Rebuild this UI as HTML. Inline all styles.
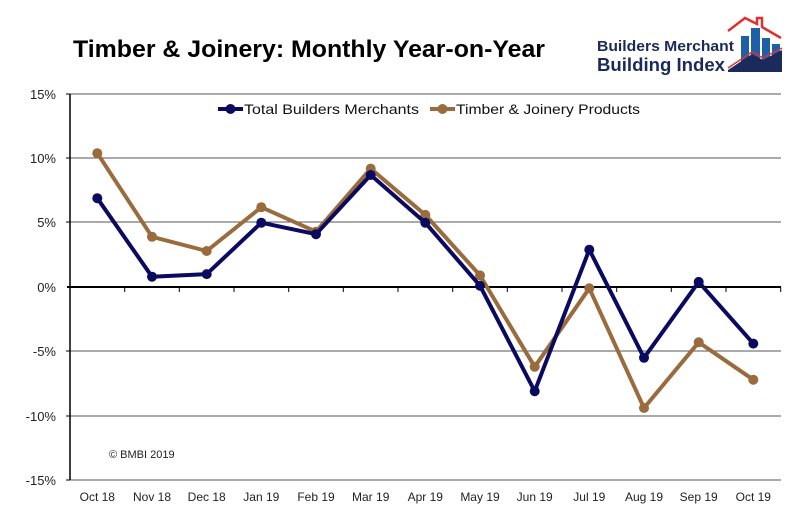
<!DOCTYPE html>
<html><head><meta charset="utf-8"><style>
body{margin:0;background:#fff}
svg{display:block}
text{font-family:"Liberation Sans",sans-serif}
</style></head><body>
<svg width="800" height="522" viewBox="0 0 800 522" xmlns="http://www.w3.org/2000/svg">
<rect width="800" height="522" fill="#fff"/>
<text x="73" y="57" font-size="24" font-weight="bold" fill="#000" textLength="472" lengthAdjust="spacingAndGlyphs">Timber &amp; Joinery: Monthly Year-on-Year</text>
<!-- logo -->
<g>
<polyline points="728,31 745,18 757,24 757,18 762,18 762,27 781,38" fill="none" stroke="#e03030" stroke-width="2.5"/>
<rect x="741" y="36" width="8" height="30" fill="#1f5fa8"/>
<rect x="751" y="28" width="9" height="38" fill="#1f5fa8"/>
<rect x="762" y="38" width="8" height="28" fill="#1f5fa8"/>
<rect x="772" y="44" width="8" height="22" fill="#1f5fa8"/>
<polygon points="728,70 752,54 763,60 782,50 782,72 728,72" fill="#1a2a5a"/>
<polyline points="728,68 752,52 763,58 782,48" fill="none" stroke="#e03030" stroke-width="1.5"/>
<text x="597" y="51" font-size="15" font-weight="bold" fill="#1a2a5a" textLength="137" lengthAdjust="spacingAndGlyphs">Builders Merchant</text>
<text x="597" y="71" font-size="18" font-weight="bold" fill="#1a2a5a" textLength="128" lengthAdjust="spacingAndGlyphs">Building Index</text>
</g>
<!-- grid -->
<g stroke="#555" stroke-width="1">
<line x1="70" y1="94" x2="781" y2="94"/>
<line x1="70" y1="158" x2="781" y2="158"/>
<line x1="70" y1="222" x2="781" y2="222"/>
<line x1="70" y1="351" x2="781" y2="351"/>
<line x1="70" y1="416" x2="781" y2="416"/>
<line x1="70" y1="480" x2="781" y2="480"/>
</g>
<line x1="70" y1="94" x2="70" y2="480" stroke="#000" stroke-width="1.5"/>
<line x1="67" y1="287" x2="781" y2="287" stroke="#000" stroke-width="2"/>
<g stroke="#000" stroke-width="1">
<line x1="66" y1="94" x2="70" y2="94"/><line x1="66" y1="158" x2="70" y2="158"/><line x1="66" y1="222" x2="70" y2="222"/>
<line x1="66" y1="351" x2="70" y2="351"/><line x1="66" y1="416" x2="70" y2="416"/><line x1="66" y1="480" x2="70" y2="480"/>
<line x1="124.7" y1="287" x2="124.7" y2="292"/><line x1="179.3" y1="287" x2="179.3" y2="292"/><line x1="234" y1="287" x2="234" y2="292"/>
<line x1="288.7" y1="287" x2="288.7" y2="292"/><line x1="343.3" y1="287" x2="343.3" y2="292"/><line x1="398" y1="287" x2="398" y2="292"/>
<line x1="452.7" y1="287" x2="452.7" y2="292"/><line x1="507.3" y1="287" x2="507.3" y2="292"/><line x1="562" y1="287" x2="562" y2="292"/>
<line x1="616.7" y1="287" x2="616.7" y2="292"/><line x1="671.3" y1="287" x2="671.3" y2="292"/><line x1="726" y1="287" x2="726" y2="292"/>
<line x1="780.7" y1="287" x2="780.7" y2="292"/>
</g>
<g font-size="13" fill="#222" text-anchor="end">
<text x="56" y="99">15%</text><text x="56" y="163">10%</text><text x="56" y="227">5%</text>
<text x="56" y="292">0%</text><text x="56" y="356">-5%</text><text x="56" y="421">-10%</text><text x="56" y="485">-15%</text>
</g>
<g font-size="12" fill="#222" text-anchor="middle">
<text x="97.3" y="501">Oct 18</text><text x="152" y="501">Nov 18</text><text x="206.7" y="501">Dec 18</text>
<text x="261.3" y="501">Jan 19</text><text x="316" y="501">Feb 19</text><text x="370.7" y="501">Mar 19</text>
<text x="425.3" y="501">Apr 19</text><text x="480" y="501">May 19</text><text x="534.7" y="501">Jun 19</text>
<text x="589.3" y="501">Jul 19</text><text x="644" y="501">Aug 19</text><text x="698.7" y="501">Sep 19</text>
<text x="753.3" y="501">Oct 19</text>
</g>
<text x="109" y="458" font-size="11" fill="#222">© BMBI 2019</text>
<!-- legend -->
<line x1="218" y1="109" x2="243" y2="109" stroke="#0a0a60" stroke-width="4"/><circle cx="230.5" cy="109" r="5" fill="#0a0a60"/>
<text x="244" y="114" font-size="14" fill="#111" textLength="175" lengthAdjust="spacingAndGlyphs">Total Builders Merchants</text>
<line x1="430" y1="109" x2="455" y2="109" stroke="#9a6b3c" stroke-width="4"/><circle cx="442.5" cy="109" r="5" fill="#9a6b3c"/>
<text x="456" y="114" font-size="14" fill="#111" textLength="184" lengthAdjust="spacingAndGlyphs">Timber &amp; Joinery Products</text>
<!-- series -->
<g fill="#9a6b3c">
<polyline fill="none" stroke="#9a6b3c" stroke-width="4" stroke-linejoin="round" points="97.3,153.2 152,236.8 206.7,251 261.3,207.2 316,231.7 370.7,168.6 425.3,214.9 480,275.4 534.7,366.8 589.3,288.3 644,408 698.7,342.3 753.3,379.7"/>
<circle cx="97.3" cy="153.2" r="5"/><circle cx="152" cy="236.8" r="5"/><circle cx="206.7" cy="251" r="5"/><circle cx="261.3" cy="207.2" r="5"/><circle cx="316" cy="231.7" r="5"/><circle cx="370.7" cy="168.6" r="5"/><circle cx="425.3" cy="214.9" r="5"/><circle cx="480" cy="275.4" r="5"/><circle cx="534.7" cy="366.8" r="5"/><circle cx="589.3" cy="288.3" r="5"/><circle cx="644" cy="408" r="5"/><circle cx="698.7" cy="342.3" r="5"/><circle cx="753.3" cy="379.7" r="5"/>
</g>
<g fill="#0a0a60">
<polyline fill="none" stroke="#0a0a60" stroke-width="4" stroke-linejoin="round" points="97.3,198.2 152,276.7 206.7,274.1 261.3,222.7 316,234.2 370.7,175 425.3,222.7 480,285.7 534.7,391.2 589.3,249.7 644,357.8 698.7,281.9 753.3,343.6"/>
<circle cx="97.3" cy="198.2" r="5"/><circle cx="152" cy="276.7" r="5"/><circle cx="206.7" cy="274.1" r="5"/><circle cx="261.3" cy="222.7" r="5"/><circle cx="316" cy="234.2" r="5"/><circle cx="370.7" cy="175" r="5"/><circle cx="425.3" cy="222.7" r="5"/><circle cx="480" cy="285.7" r="5"/><circle cx="534.7" cy="391.2" r="5"/><circle cx="589.3" cy="249.7" r="5"/><circle cx="644" cy="357.8" r="5"/><circle cx="698.7" cy="281.9" r="5"/><circle cx="753.3" cy="343.6" r="5"/>
</g>
</svg>
</body></html>
